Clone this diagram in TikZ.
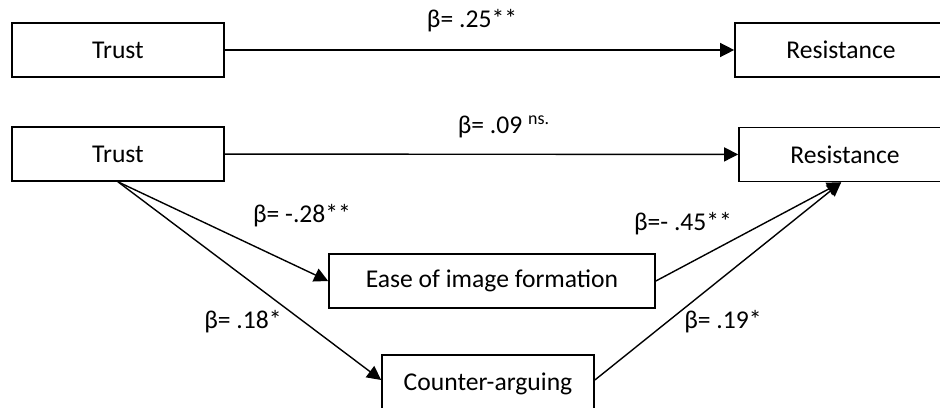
\documentclass[tikz,border=0pt]{standalone}
\usepackage{fontspec}
\setmainfont{Carlito}
\usetikzlibrary{arrows.meta}
\begin{document}
\begin{tikzpicture}[x=.5pt,y=-.5pt,>={Triangle[length=7pt,width=7pt]},
  font=\fontsize{12.8}{15}\selectfont,
  var/.style={draw,line width=.85pt,minimum height=27pt,inner sep=0pt},
  path/.style={line width=.7pt}]
  \useasboundingbox (0,0) rectangle (940,407);
  % total effect
  \node[var,minimum width=106pt] (trustA) at (118,50) {Trust};
  \node[var,minimum width=117pt] (resA) at (852,50) {Resistance\hspace*{11pt}};
  \draw[path,->] (trustA) -- (resA);
  % mediation model
  \node[var,minimum width=106pt] (trustB) at (118,154) {Trust};
  \node[var,minimum width=117pt] (resB) at (856,154.5) {Resistance\hspace*{11pt}};
  \node[var,minimum width=163pt] (ease) at (492,281) {Ease of image formation};
  \node[var,minimum width=106pt,minimum height=29pt] (counter) at (488,384) {Counter-arguing\vphantom{$\big|$}};
  \coordinate (meet) at ([xshift=51.5pt]resB.south west);
  \draw[path,->] (trustB) -- (resB);
  \draw[path,->] (trustB.south) -- ([yshift=2pt]counter.west);
  \draw[path,->] (trustB.south) -- (ease.west);
  \draw[path,->] (ease.east) -- (meet);
  \draw[path,->] ([yshift=2pt]counter.east) -- (meet);
  \foreach \n/\x/\y/\lab in {bA/472/21/{β= .25**},bB/504/127/{β= .09 \textsuperscript{ns.}},
      bC/302/216/{β= -.28**},bD/683/224/{β=- .45**},bE/243/322/{β= .18*},bF/723/322/{β= .19*}}
    \node (\n) at (\x,\y) {\lab};
\end{tikzpicture}
\end{document}
